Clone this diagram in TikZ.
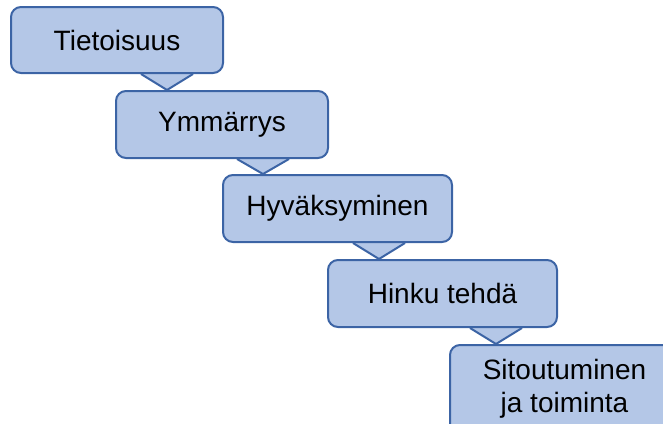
\documentclass[tikz,border=0pt]{standalone}
\usepackage{fontspec}
\setmainfont{Liberation Sans}
\definecolor{bfill}{HTML}{B4C7E7}
\definecolor{bline}{HTML}{3C64A5}
\usetikzlibrary{calc,backgrounds}

\tikzset{
	stage/.style={draw=bline, fill=bfill, line width=2pt, rounded corners=10pt,
		font=\fontsize{28}{33}\selectfont, align=center, inner sep=0pt},
	wedge/.style={draw=bline, fill=bfill, line width=2pt, line join=round}
}

\begin{document}
\begin{tikzpicture}[x=1pt,y=-1pt]
			\useasboundingbox (0,0) rectangle (663,423);
			\clip (0,0) rectangle (663,423);

			\node[stage, minimum width=212pt, minimum height=66pt] (tieto) at (117,40) {Tietoisuus};
			\node[stage, minimum width=212pt, minimum height=67pt] (ymm) at (222,124.5) {Ymmärrys};
			\node[stage, minimum width=229pt, minimum height=67pt] (hyv) at (337.5,208.5) {Hyväksyminen};
			\node[stage, minimum width=229pt, minimum height=67pt] (hinku) at (442.5,293.5) {Hinku tehdä};
			\node[stage, minimum width=229pt, minimum height=88pt] (sito) at (564.5,389) {Sitoutuminen\\ja toiminta};

			% wedges between the stages
			\begin{scope}[on background layer]
				\foreach \u/\v/\d/\e in {tieto/ymm/157/52, ymm/hyv/148/41, hyv/hinku/157/52, hinku/sito/169/47}
					\draw[wedge] ($(\u.south west)+(\d-26,0)$) -- ($(\v.north west)+(\e,0)$) -- ($(\u.south west)+(\d+26,0)$);
			\end{scope}
		\end{tikzpicture}
\end{document}
